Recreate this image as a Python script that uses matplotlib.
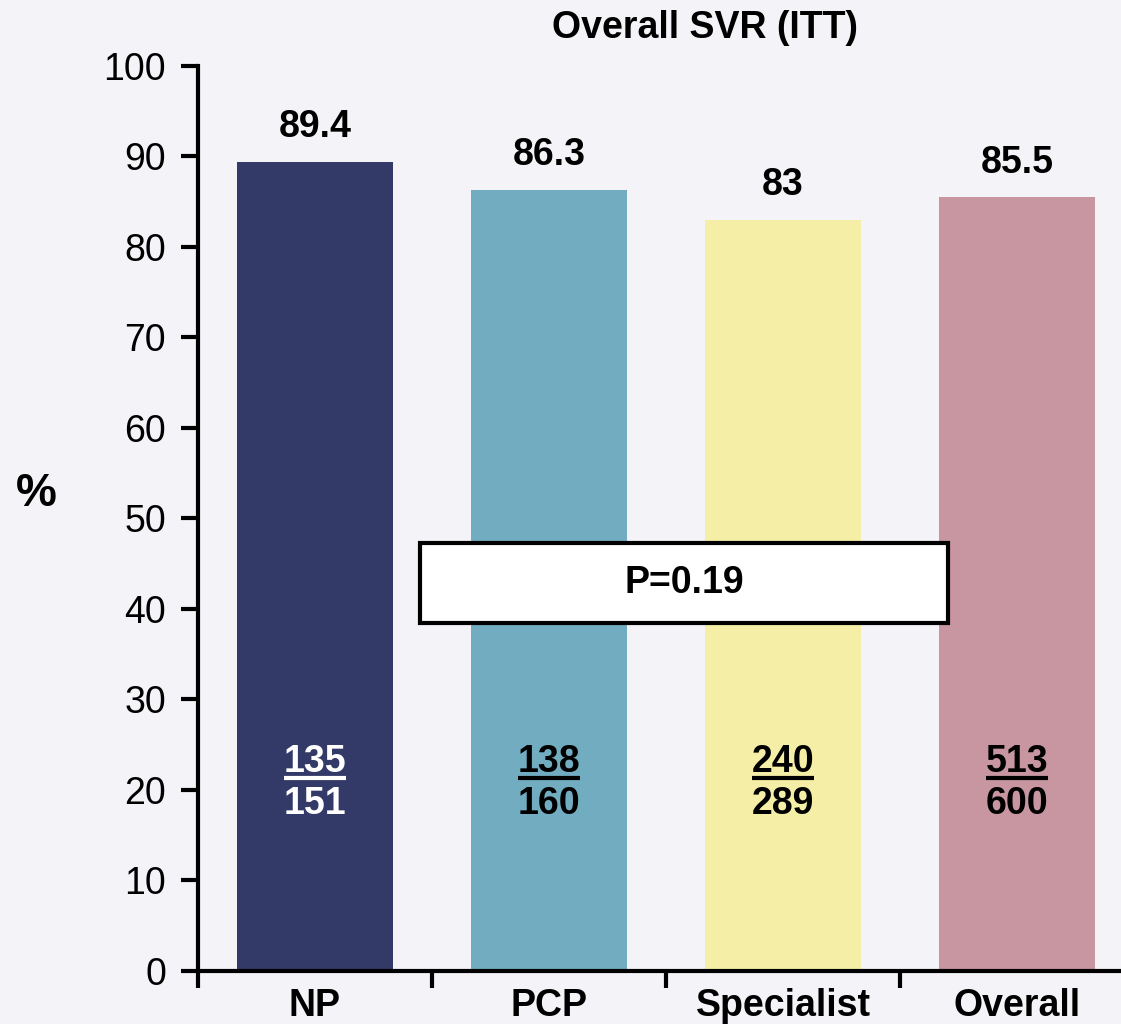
import numpy as np
import matplotlib
matplotlib.use("Agg")
import matplotlib.pyplot as plt
from matplotlib.patches import Rectangle

plt.rcParams['font.family'] = ['Liberation Sans', 'DejaVu Sans']

groups = ["NP", "PCP", "Specialist", "Overall"]
svr = [89.4, 86.3, 83, 85.5]
responders = [135, 138, 240, 513]
totals = [151, 160, 289, 600]
bar_colors = ["#343a68", "#71acc0", "#f5eea6", "#c796a0"]
frac_colors = ["white", "black", "black", "black"]
p_value = "P=0.19"

fs = 27

fig = plt.figure(figsize=(11.21, 10.24), dpi=100, facecolor="#f4f4f8")
ax = fig.add_axes([0.1766, 0.0518, 0.8234, 0.8838])
ax.set_facecolor("none")

x = np.arange(len(groups))
ax.bar(x, svr, width=0.667, color=bar_colors, zorder=2)

for i, v in enumerate(svr):
    ax.annotate(f"{v:g}", (x[i], v), xytext=(0, 12), textcoords="offset points",
                ha="center", va="bottom", fontsize=fs, fontweight="bold")
    # fraction: responders over total, with a bar between them
    ax.text(x[i], 23.1, str(responders[i]), ha="center", va="center",
            fontsize=fs, fontweight="bold", color=frac_colors[i], zorder=4)
    ax.plot([x[i] - 0.132, x[i] + 0.132], [21.3, 21.3], color=frac_colors[i],
            lw=3, solid_capstyle="butt", zorder=4)
    ax.text(x[i], 18.4, str(totals[i]), ha="center", va="center",
            fontsize=fs, fontweight="bold", color=frac_colors[i], zorder=4)

# p-value box across the middle bars
ax.add_patch(Rectangle((0.449, 38.45), 2.256, 8.85, facecolor="white",
                       edgecolor="black", lw=3, zorder=5))
ax.text(0.449 + 2.256 / 2, 38.45 + 8.85 / 2, p_value, ha="center", va="center",
        fontsize=fs, fontweight="bold", zorder=6)

ax.set_xlim(-0.5, 3.444)
ax.set_ylim(0, 100)
ax.set_yticks(np.arange(0, 101, 10))
ax.set_xticks(x)
ax.set_xticklabels(groups, fontsize=fs, fontweight="bold")
ax.set_xticks(np.arange(-0.5, 3.0, 1.0), minor=True)
ax.tick_params(axis="x", which="major", length=0, pad=12)
ax.tick_params(axis="x", which="minor", length=12, width=3, direction="out")
ax.tick_params(axis="y", length=12, width=3, direction="out", labelsize=fs, pad=11)

for s in ["top", "right"]:
    ax.spines[s].set_visible(False)
for s in ["left", "bottom"]:
    ax.spines[s].set_linewidth(3)

fig.text(36 / 1121, 1 - 494 / 1024, "%", ha="center", va="center",
         fontsize=33, fontweight="bold")
fig.text(705 / 1121, 1 - 28 / 1024, "Overall SVR (ITT)", ha="center", va="center",
         fontsize=fs, fontweight="bold")

fig.savefig("out.png", dpi=100, facecolor=fig.get_facecolor())
